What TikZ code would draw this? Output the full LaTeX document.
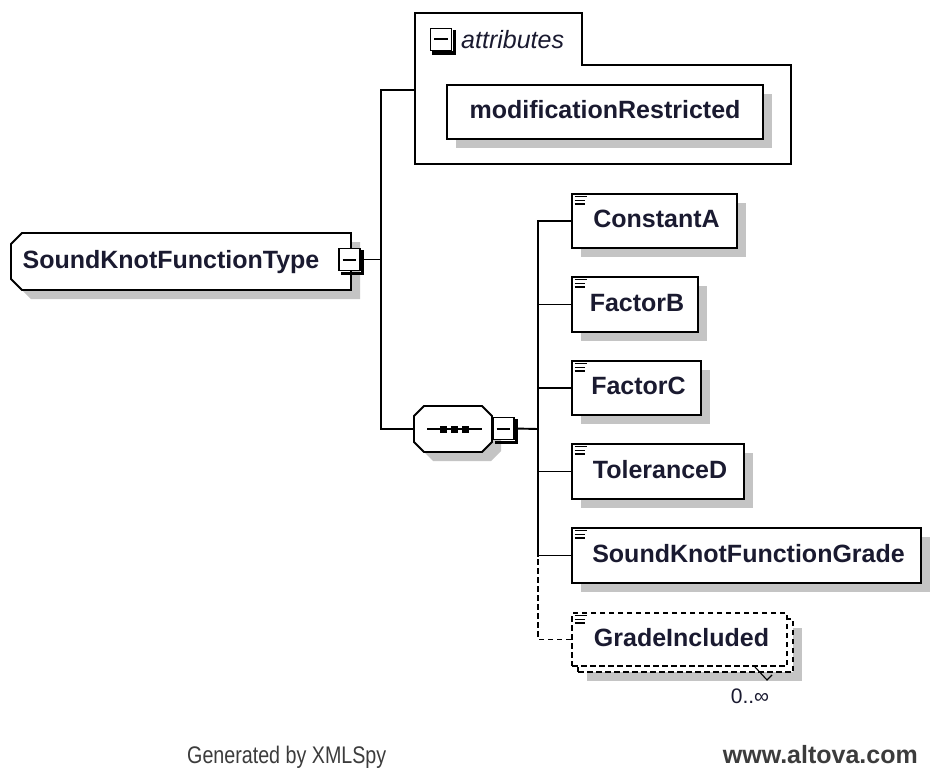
\documentclass[tikz,border=0pt]{standalone}
\usepackage{graphicx}
\usepackage{fontspec}
\setmainfont{Liberation Sans}
\usetikzlibrary{shadows}
\definecolor{ink}{HTML}{1A1A30}
\definecolor{shadowgray}{HTML}{C4C4C4}
\definecolor{foot}{HTML}{3C3C3C}

% collapse button: white square with a heavy lower-right edge and a minus bar
\newcommand\minusbox[3]{%
  \node[minusbtn] (#1) at (#2,#3) {};
  \draw[line width=3.4pt] ([shift={(1.8,2.5)}]#1.north east) -- ([shift={(1.8,1.8)}]#1.south east) -- ([shift={(2.5,1.8)}]#1.south west);
  \draw[line width=2pt] ([xshift=4.5]#1.west) -- ([xshift=-4.5]#1.east);
}
% element marker: three short bars in the upper-left corner
\newcommand\elemicon[1]{%
  \draw[line width=1.3pt] ([shift={(3.5,3.5)}]#1.north west) -- ++(12,0)
    ([shift={(3.5,7.2)}]#1.north west) -- ++(10,0)
    ([shift={(3.5,10.9)}]#1.north west) -- ++(10,0);
}

\begin{document}
\begin{tikzpicture}[x=1pt,y=-1pt,
  lbl/.style={font=\fontsize{25}{30}\selectfont\bfseries, text=ink},
  shad/.style={drop shadow={shadow xshift=9pt,shadow yshift=-9pt,fill=shadowgray,opacity=1}},
  elem/.style={rectangle, draw=black, line width=1.9pt, fill=white, inner sep=0pt,
    lbl, shad, text height=18pt, text depth=5pt},
  optelem/.style={rectangle, draw=black, line width=1.7pt, fill=white, inner sep=0pt,
    dash pattern=on 5.5pt off 3.5pt, lbl, text height=18pt, text depth=5pt},
  minusbtn/.style={rectangle, draw=black, line width=1.8pt, fill=white, inner sep=0pt,
    minimum width=21pt, minimum height=22pt},
  hull/.style={inner sep=0pt, outer sep=0pt},
  outline/.style={draw=black, line width=1.9pt, fill=white},
  conn/.style={line width=1.9pt},
  dconn/.style={line width=1.7pt, dash pattern=on 5.5pt off 3.5pt},
]
\useasboundingbox (0,0) rectangle (936,778);
\fill[white] (0,0) rectangle (936,778);

% attribute group
\draw[line width=1.9pt] (415,13) -- (582,13) -- (582,65) -- (791,65) -- (791,164) -- (415,164) -- cycle;
\coordinate (attrtab) at (415,90);
\minusbox{attrminus}{441}{39.5}
\node[font=\fontsize{25}{30}\selectfont\itshape, text=ink, anchor=west, inner sep=0pt] (attrlabel) at (461,40) {attributes};
\node[elem, minimum width=316pt, minimum height=54pt] (modres) at (605,112) {modificationRestricted};

% complex type: box with cut corners on the left
\fill[shadowgray] (31,242) -- (360,242) -- (360,299) -- (31,299) -- (20,288) -- (20,253) -- cycle;
\draw[outline] (22,233) -- (351,233) -- (351,290) -- (22,290) -- (11,279) -- (11,244) -- cycle;
\node[hull, lbl, minimum width=340pt, minimum height=57pt, text height=18pt, text depth=5pt]
  (root) at (181,261.5) {SoundKnotFunctionType\hspace*{20pt}};
\minusbox{rootminus}{349.5}{259.5}

% sequence compositor: octagon with a dotted bar
\fill[shadowgray] (433,415) -- (491,415) -- (501,425) -- (501,451) -- (491,461) -- (433,461) -- (423,451) -- (423,425) -- cycle;
\draw[outline] (424,406) -- (482,406) -- (492,416) -- (492,442) -- (482,452) -- (424,452) -- (414,442) -- (414,416) -- cycle;
\node[hull, minimum width=78pt, minimum height=46pt] (seq) at (453,429) {};
\draw[line width=1.6pt] ([xshift=-26]seq.center) -- ([xshift=29]seq.center);
\foreach \dx in {-10,1.5,12.5}
  \fill ([shift={(\dx-3.5,-3.5)}]seq.center) rectangle ++(7,7);
\minusbox{seqminus}{503.5}{428.5}

% child elements
\node[elem, minimum width=165pt, minimum height=54pt] (constA) at (654.5,221) {\hspace*{4pt}ConstantA};
\node[elem, minimum width=126pt, minimum height=55pt] (factorB) at (635,304.5) {\hspace*{4pt}FactorB};
\node[elem, minimum width=129pt, minimum height=54pt] (factorC) at (636.5,388) {\hspace*{4pt}FactorC};
\node[elem, minimum width=172pt, minimum height=55pt] (tolD) at (658,471.5) {\hspace*{4pt}ToleranceD};
\node[elem, minimum width=349pt, minimum height=55pt] (grade) at (746.5,555.5) {\hspace*{4pt}SoundKnotFunctionGrade};
\node[optelem, shad, minimum width=215pt, minimum height=53pt] (gradeback) at (685.5,645.5) {};
\node[optelem, minimum width=215pt, minimum height=53pt] (gradeinc) at (679.5,639.5) {\hspace*{4pt}GradeIncluded};
\foreach \n in {constA,factorB,factorC,tolD,grade,gradeinc} { \elemicon{\n} }

% occurrence marker
\draw[line width=1.1pt] (755,667) -- (767,680) -- (772,675);
\node[font=\fontsize{21}{24}\selectfont, text=ink, anchor=base, inner sep=0pt] (occurs) at (750,703) {0..∞};

% connectors
\coordinate (vtop) at (381,90);
\coordinate (vbot) at (381,429);
\coordinate (bus) at (538,429);
\draw[conn] (attrtab) -- (vtop) -- (vbot) -- (seq.west);
\draw[conn] (rootminus.east) -- (rootminus.east -| vtop);
\draw[conn] (seqminus.east) -- (bus);
\foreach \n in {constA,factorB,factorC,tolD,grade}
  \draw[conn] (\n.west) -| (bus);
\draw[dconn] (gradeinc.west) -| (grade.west -| bus);

% footer
\node[anchor=base west, text=foot, inner sep=0pt] (gen) at (187,763)
  {\scalebox{0.82}[1]{\fontsize{24}{28}\selectfont Generated by XMLSpy}};
\node[anchor=base east, font=\fontsize{25}{30}\selectfont\bfseries, text=foot, inner sep=0pt] (altova) at (918,763) {www.altova.com};
\end{tikzpicture}
\end{document}
